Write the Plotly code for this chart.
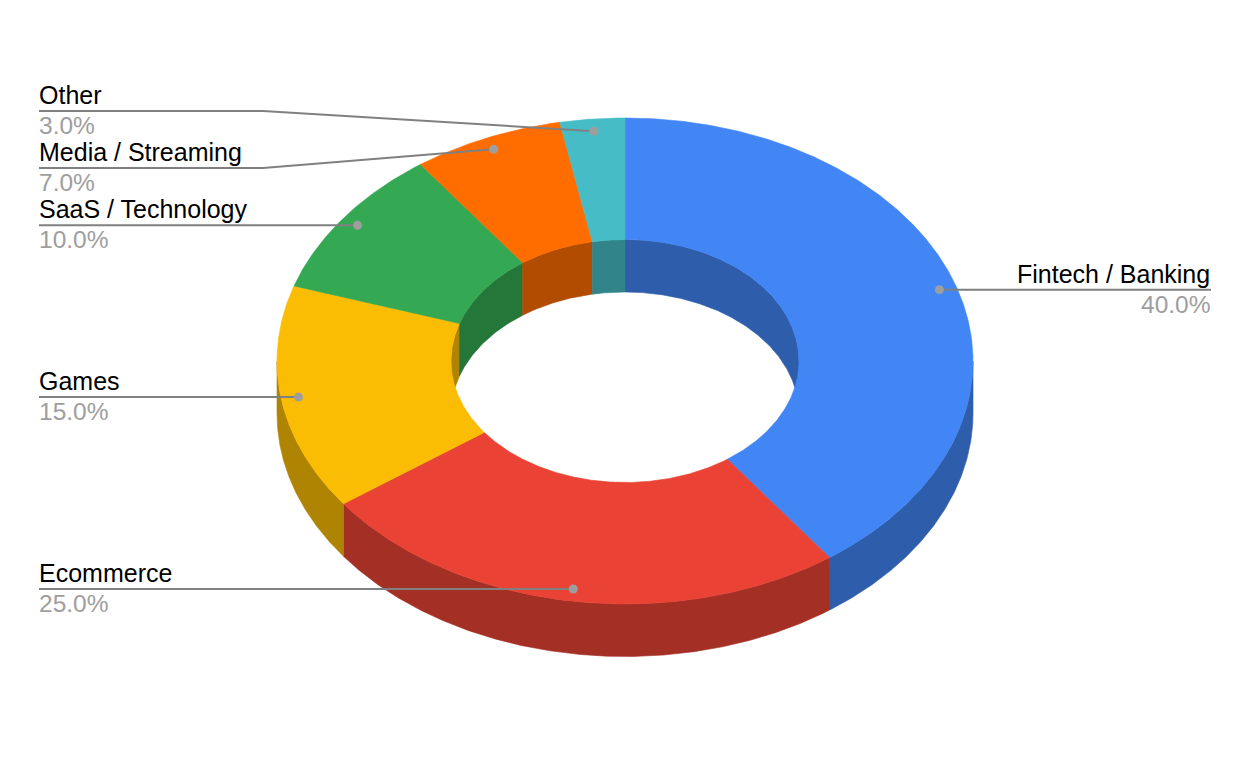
import numpy as np
import plotly.graph_objects as go

# data
categories = ["Fintech / Banking", "Ecommerce", "Games", "SaaS / Technology", "Media / Streaming", "Other"]
shares = [40.0, 25.0, 15.0, 10.0, 7.0, 3.0]
colors = ["#4285F4", "#EA4335", "#FBBC04", "#34A853", "#FF6D01", "#46BDC6"]
wall_colors = ["#2E5DAB", "#A32F25", "#B08403", "#257639", "#B24C01", "#318489"]

# donut geometry, in page pixels
cx, cy = 625, 361
rx, ry = 348, 243
hole = 0.5
depth = 52.5
dot_r = 0.95

# label rows: y of the line under the name, only where it differs from the dot
row_y = {"Other": 111, "Media / Streaming": 168}
left_x, right_x, knee_x = 39, 1211, 263


def pt(deg, r=1.0, drop=0.0):
    a = np.radians(deg)
    return cx + rx * r * np.sin(a), cy - ry * r * np.cos(a) + drop


def arc(a0, a1, r=1.0, drop=0.0):
    n = max(int(abs(a1 - a0)) * 4, 2)
    return pt(np.linspace(a0, a1, n), r, drop)


def poly(fig, xs, ys, color):
    fig.add_trace(go.Scatter(x=xs, y=ys, mode="lines", fill="toself", fillcolor=color,
                             line=dict(color=color, width=0.6), hoverinfo="skip", showlegend=False))


def wall(fig, a0, a1, r, color):
    x1, y1 = arc(a0, a1, r)
    x2, y2 = arc(a1, a0, r, depth)
    poly(fig, np.r_[x1, x2, x1[0]], np.r_[y1, y2, y1[0]], color)


ends = np.cumsum(shares) / sum(shares) * 360
starts = np.r_[0, ends[:-1]]

fig = go.Figure()

# inner walls show on the far half, outer walls on the near half
for a0, a1, c in zip(starts, ends, wall_colors):
    for lo, hi in [(0, 90), (270, 360)]:
        if min(a1, hi) > max(a0, lo):
            wall(fig, max(a0, lo), min(a1, hi), hole, c)
    if min(a1, 270) > max(a0, 90):
        wall(fig, max(a0, 90), min(a1, 270), 1.0, c)

# top face
for a0, a1, c in zip(starts, ends, colors):
    x1, y1 = arc(a0, a1)
    x2, y2 = arc(a1, a0, hole)
    poly(fig, np.r_[x1, x2, x1[0]], np.r_[y1, y2, y1[0]], c)

# leaders and labels
annotations = []
for name, v, a0, a1 in zip(categories, shares, starts, ends):
    dx, dy = pt((a0 + a1) / 2, dot_r)
    on_right = dx > cx
    end_x = right_x if on_right else left_x
    y = row_y.get(name, dy)
    xs = [dx, end_x] if name not in row_y else [dx, knee_x, end_x]
    ys = [y, y] if name not in row_y else [dy, y, y]
    fig.add_trace(go.Scatter(x=xs, y=ys, mode="lines", line=dict(color="#808080", width=2),
                             hoverinfo="skip", showlegend=False))
    fig.add_trace(go.Scatter(x=[dx], y=[dy], mode="markers", marker=dict(color="#9E9E9E", size=9),
                             hoverinfo="skip", showlegend=False))
    anchor = "right" if on_right else "left"
    shift = 0 if on_right else -1
    annotations.append(dict(x=end_x, y=y, text=name, showarrow=False, xanchor=anchor, yanchor="bottom",
                            xshift=shift, yshift=1, borderpad=0, font=dict(color="#000000", size=25)))
    annotations.append(dict(x=end_x, y=y, text=f"{v:.1f}%", showarrow=False, xanchor=anchor, yanchor="top",
                            xshift=shift, yshift=0, borderpad=0, font=dict(color="#9E9E9E", size=24.5)))

fig.update_layout(
    width=1250, height=774,
    margin=dict(l=0, r=0, t=0, b=0),
    paper_bgcolor="white", plot_bgcolor="white",
    font=dict(family="Liberation Sans, Arial, sans-serif"),
    showlegend=False,
    annotations=annotations,
    xaxis=dict(range=[0, 1250], visible=False, fixedrange=True),
    yaxis=dict(range=[774, 0], visible=False, fixedrange=True),
)

fig.write_html("out.html", config=dict(displayModeBar=False),
               post_script="document.body.style.margin='0';document.body.style.overflow='hidden';")
